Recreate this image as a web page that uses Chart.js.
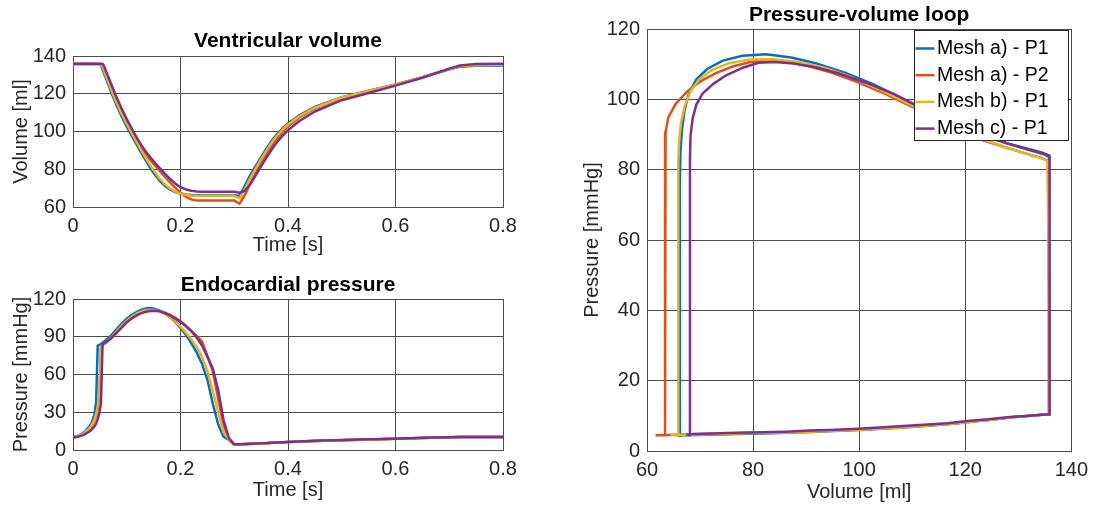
<!DOCTYPE html>
<html>
<head>
<meta charset="utf-8">
<script src="https://cdn.jsdelivr.net/npm/chart.js@4.4.1/dist/chart.umd.min.js"></script>
<style>
  html, body { margin: 0; padding: 0; background: #fff; }
  #wrap { position: relative; width: 1095px; height: 508px; overflow: hidden; }
  .box { position: absolute; }
</style>
</head>
<body>
<div id="wrap">
  <div class="box" style="left:0;top:0;width:540px;height:257px"><canvas id="volChart"></canvas></div>
  <div class="box" style="left:0;top:257px;width:540px;height:251px"><canvas id="presChart"></canvas></div>
  <div class="box" style="left:540px;top:0;width:555px;height:508px"><canvas id="pvChart"></canvas></div>
</div>
<script>
// time samples [s], shared by all runs
const timeS = [0, 0.01, 0.02, 0.03, 0.035, 0.04, 0.043, 0.046, 0.049, 0.052,
  0.055, 0.058, 0.062, 0.066, 0.07, 0.08, 0.09, 0.1, 0.11, 0.12,
  0.13, 0.14, 0.15, 0.16, 0.17, 0.18, 0.19, 0.2, 0.21, 0.22,
  0.23, 0.24, 0.25, 0.26, 0.27, 0.28, 0.29, 0.3, 0.31, 0.32,
  0.33, 0.34, 0.35, 0.36, 0.37, 0.38, 0.39, 0.4, 0.42, 0.45,
  0.5, 0.55, 0.6, 0.65, 0.7, 0.72, 0.75, 0.8];

const seriesLabels = ['Mesh a) - P1', 'Mesh a) - P2', 'Mesh b) - P1', 'Mesh c) - P1'];

// ventricular volume [ml]
const volA1 = [135.8, 135.8, 135.8, 135.8, 135.8, 135.8, 135.8, 135.8, 135.8, 135.1,
  132.9, 130.6, 127.6, 124.6, 121.6, 114.5, 108.2, 102.6, 97.3, 92.2,
  87.2, 82.4, 78, 74.3, 71.4, 69.3, 67.9, 67.1, 66.6, 66.3,
  66.2, 66.2, 66.2, 66.2, 66.2, 66.2, 66.2, 66.2, 65.8, 71.5,
  77, 81.8, 86.4, 91, 95.2, 98.8, 101.7, 104.2, 108.4, 113,
  118.2, 121.6, 124.9, 128.8, 133, 134.3, 134.8, 135];
const volA2 = [135.8, 135.8, 135.8, 135.8, 135.8, 135.8, 135.8, 135.8, 135.8, 135.6,
  134.4, 132.3, 129.4, 126.4, 123.4, 116.6, 110.4, 104.8, 99.6, 94.6,
  90, 86.3, 82.8, 79.5, 76.3, 73.2, 70.3, 67.6, 65.4, 64,
  63.5, 63.4, 63.4, 63.4, 63.4, 63.4, 63.4, 63.4, 61.8, 66.5,
  72.5, 78, 83, 88, 92.5, 96.5, 99.8, 102.6, 107.2, 112.2,
  117.8, 121.3, 124.7, 128.6, 133, 134.6, 135.2, 135.4];
const volB1 = [135.8, 135.8, 135.8, 135.8, 135.8, 135.8, 135.8, 135.8, 135.8, 135.5,
  134.1, 131.9, 128.9, 125.9, 122.9, 115.9, 109.6, 104, 98.7, 93.6,
  88.6, 83.8, 79.4, 75.5, 72.3, 69.9, 68.2, 67.1, 66.4, 66.05,
  65.9, 65.9, 65.9, 65.9, 65.9, 65.9, 65.9, 65.9, 64.6, 69.8,
  75.3, 80.4, 85.3, 90, 94.3, 98, 101, 103.6, 107.9, 112.6,
  118, 121.5, 124.8, 128.7, 133.1, 134.6, 135.1, 135.3];
const volC1 = [135.9, 135.9, 135.9, 135.9, 135.9, 135.9, 135.9, 135.9, 135.9, 135.9,
  135.9, 134.4, 131.6, 128.7, 125.8, 118.8, 112.4, 106.6, 101.2, 96.1,
  91.5, 87.6, 84.2, 81, 77.9, 75, 72.5, 70.5, 69.3, 68.6,
  68.2, 68.1, 68.1, 68.1, 68.1, 68.1, 68.1, 68.1, 67.6, 68.6,
  72.2, 76.8, 81.6, 86.2, 90.6, 94.5, 97.8, 100.6, 105.3, 110.6,
  116.6, 120.4, 124.3, 128.5, 133.3, 135, 135.7, 135.9];

// endocardial pressure [mmHg]
const presA1 = [10, 11.3, 13.8, 18.3, 22, 28.5, 38, 83, 83.6, 84.2,
  85.2, 86.2, 87.6, 89.1, 90.6, 95.5, 100.2, 104.3, 107.6, 110.1,
  111.9, 112.8, 112.4, 111, 108.7, 105.7, 101.8, 97, 91.5, 85,
  77.5, 68.5, 56, 37, 20.5, 10.5, 8, 4.3, 4.4, 4.6,
  4.8, 5, 5.2, 5.4, 5.7, 5.9, 6.1, 6.3, 6.7, 7.2,
  7.8, 8.4, 8.9, 9.6, 10.1, 10.3, 10.3, 10.3];
const presA2 = [10, 11, 13, 16.5, 19, 23.5, 27.5, 33, 42, 82.5,
  83.3, 84.2, 85.5, 86.9, 88.3, 93, 97.6, 101.6, 105, 107.7,
  109.6, 110.7, 111.1, 110.6, 109.4, 107.6, 105.3, 102.3, 98.7, 94.8,
  90.6, 86.3, 75, 62.5, 41, 20, 8.5, 4.5, 4.5, 4.7,
  4.9, 5.1, 5.2, 5.4, 5.7, 5.9, 6.1, 6.3, 6.7, 7.2,
  7.8, 8.4, 8.9, 9.6, 10.1, 10.3, 10.3, 10.3];
const presB1 = [10, 11.1, 13.2, 17, 19.8, 24.3, 28.5, 34.5, 45, 82.5,
  83.4, 84.4, 85.8, 87.3, 88.8, 93.7, 98.5, 102.7, 106.2, 108.9,
  110.6, 111.4, 111.3, 110.3, 108.4, 105.8, 102.3, 98, 93.2, 88,
  82, 74, 63, 47, 30, 14, 8.5, 4.4, 4.5, 4.7,
  4.9, 5.1, 5.2, 5.4, 5.7, 5.9, 6.1, 6.3, 6.7, 7.2,
  7.8, 8.4, 8.9, 9.6, 10.1, 10.3, 10.3, 10.3];
const presC1 = [10, 10.6, 12, 14.5, 16.3, 18.8, 21, 24.5, 29.5, 37,
  84, 84.9, 86, 87.2, 88.5, 92.7, 97, 101.5, 104.8, 107.4,
  109.2, 110.2, 110.6, 110.4, 108.9, 106.9, 104.4, 101.7, 98.5, 94.5,
  89.5, 83, 74, 65, 48, 24, 9.5, 4.5, 4.6, 4.8,
  5, 5.2, 5.3, 5.5, 5.8, 6, 6.2, 6.4, 6.8, 7.3,
  7.9, 8.5, 9, 9.7, 10.2, 10.4, 10.4, 10.4];

// tick labels
const timeTicks = [0, 0.2, 0.4, 0.6, 0.8];
const volTicks = [60, 80, 100, 120, 140];
const presTicks = [0, 30, 60, 90, 120];
const pvVolTicks = [60, 80, 100, 120, 140];
const pvPresTicks = [0, 20, 40, 60, 80, 100, 120];

const volumes = [volA1, volA2, volB1, volC1];
const pressures = [presA1, presA2, presB1, presC1];
const colors = ['#0072BD', '#D95319', '#EDB120', '#7E2F8E'];

const FONT = "'Liberation Sans', Arial, Helvetica, sans-serif";
const TEXT = '#262626';
const GRID = '#4d4d4d';
const LINE_W = 2.5;

function axis(ticks, title, size, titlePad, horizontal) {
  return {
    type: 'linear',
    min: ticks[0],
    max: ticks[ticks.length - 1],
    afterBuildTicks: (s) => { s.ticks = ticks.map((v) => ({ value: v })); },
    afterFit: (s) => { if (horizontal) s.height = size; else s.width = size; },
    grid: { color: GRID, lineWidth: 1, drawTicks: false },
    border: { color: GRID, width: 1 },
    ticks: {
      color: TEXT, padding: 7, maxRotation: 0, autoSkip: false,
      font: { family: FONT, size: 20 },
      callback: (v) => String(v),
    },
    title: {
      display: true, text: title, color: TEXT, padding: titlePad,
      font: { family: FONT, size: 20 },
    },
  };
}

function lines(xArrays, yArrays) {
  return seriesLabels.map((label, k) => ({
    label,
    data: yArrays[k].map((y, i) => ({ x: xArrays === null ? timeS[i] : xArrays[k][i], y })),
    borderColor: colors[k],
    backgroundColor: colors[k],
    borderWidth: LINE_W,
    borderJoinStyle: 'round',
    pointRadius: 0,
    showLine: true,
    fill: false,
    tension: 0,
    order: 4 - k, // last series drawn on top
  }));
}

function title(text, padTop, padBottom) {
  return {
    display: true, text, color: '#000', fullSize: false,
    font: { family: FONT, size: 21, weight: 'bold' },
    padding: { top: padTop, bottom: padBottom },
  };
}

const boxLegend = {
  id: 'boxLegend',
  afterDraw(chart) {
    const { ctx, chartArea } = chart;
    const w = 154, h = 110, rowH = 26.7;
    const x0 = Math.round(chartArea.right - w - 3) + 0.5;
    const y0 = Math.round(chartArea.top + 1) + 0.5;
    ctx.save();
    ctx.fillStyle = '#fff';
    ctx.fillRect(x0, y0, w, h);
    ctx.strokeStyle = TEXT;
    ctx.lineWidth = 1;
    ctx.strokeRect(x0, y0, w, h);
    ctx.font = '19.5px ' + FONT;
    ctx.textBaseline = 'middle';
    chart.data.datasets.forEach((ds, i) => {
      const y = y0 + 18 + i * rowH;
      ctx.strokeStyle = ds.borderColor;
      ctx.lineWidth = LINE_W;
      ctx.beginPath();
      ctx.moveTo(x0 + 1, y);
      ctx.lineTo(x0 + 20, y);
      ctx.stroke();
      ctx.fillStyle = '#000';
      ctx.fillText(ds.label, x0 + 22.5, y);
    });
    ctx.restore();
  },
};

const common = {
  responsive: true,
  maintainAspectRatio: false,
  animation: false,
  events: [],
};

new Chart(document.getElementById('volChart'), {
  type: 'line',
  data: { datasets: lines(null, volumes) },
  options: {
    ...common,
    layout: { padding: { left: 0, right: 37, top: 0, bottom: 0 } },
    scales: {
      x: axis(timeTicks, 'Time [s]', 50, { top: 0, bottom: 0 }, true),
      y: axis(volTicks, 'Volume [ml]', 73, { top: 9, bottom: 0 }, false),
    },
    plugins: {
      legend: { display: false },
      tooltip: { enabled: false },
      title: title('Ventricular volume', 28.4, 2.4),
    },
  },
});

new Chart(document.getElementById('presChart'), {
  type: 'line',
  data: { datasets: lines(null, pressures) },
  options: {
    ...common,
    layout: { padding: { left: 0, right: 37, top: 0, bottom: 0 } },
    scales: {
      x: axis(timeTicks, 'Time [s]', 58, { top: 0, bottom: 6 }, true),
      y: axis(presTicks, 'Pressure [mmHg]', 73, { top: 9, bottom: 0 }, false),
    },
    plugins: {
      legend: { display: false },
      tooltip: { enabled: false },
      title: title('Endocardial pressure', 15.4, 1.4),
    },
  },
});

new Chart(document.getElementById('pvChart'), {
  type: 'scatter',
  data: { datasets: lines(volumes, pressures) },
  options: {
    ...common,
    layout: { padding: { left: 0, right: 19, top: 0, bottom: 0 } },
    scales: {
      x: axis(pvVolTicks, 'Volume [ml]', 57, { top: 0, bottom: 4 }, true),
      y: axis(pvPresTicks, 'Pressure [mmHg]', 107, { top: 40, bottom: 0 }, false),
    },
    plugins: {
      legend: { display: false },
      tooltip: { enabled: false },
      title: title('Pressure-volume loop', 2.4, 1.4),
    },
  },
  plugins: [boxLegend],
});
</script>
</body>
</html>
